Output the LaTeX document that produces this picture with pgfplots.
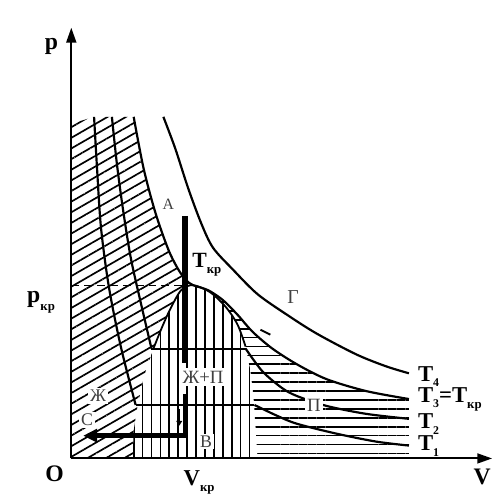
\documentclass[border=0pt]{standalone}
\usepackage{fontspec}
\setmainfont{Liberation Serif}
\usepackage{pgfplots}
\pgfplotsset{compat=1.18}
\usetikzlibrary{patterns.meta,arrows.meta}

% pixel-like coordinates: x to the right, y downwards (as in the scan)
\newcommand\kr{\raisebox{-0.3em}{\fontsize{13}{13}\selectfont кр}}
\newcommand\ix[1]{\raisebox{-0.25em}{\fontsize{12}{12}\selectfont #1}}

\begin{document}
\begin{tikzpicture}
\begin{axis}[
    scale only axis, width=498bp, height=493bp,
    xmin=0, xmax=498, ymin=0, ymax=493,
    y dir=reverse, hide axis, clip=false,
  ]
  % frame of the picture
  \addplot[draw=none] coordinates {(0,0) (498,493)};

  % liquid region (diagonal hatch)
  \addplot[draw=none, pattern={Lines[angle=30,distance=9.3bp,line width=1.7bp]}]
    coordinates {(72,125) (95,118) (135,118) (145,170) (157,215) (170,252)
      (180,272) (188,283) (195,288) (183,293) (172,312) (163,332) (155,352)
      (146,378) (139,409) (135,435) (134,463) (72,463)} --cycle;
  % two-phase dome (vertical hatch)
  \addplot[draw=none, pattern={Lines[angle=90,distance=9bp,line width=1.7bp]}]
    coordinates {(134,463) (135,435) (139,409) (146,378) (155,352) (163,332)
      (172,312) (183,293) (195,288) (212,295) (228,310) (240,328) (248,350)
      (253,375) (256,400) (258,430) (260,463)} --cycle;
  % gas region (horizontal hatch)
  \addplot[draw=none, pattern={Lines[angle=0,distance=9bp,line width=1.7bp]}]
    coordinates {(195,288) (210,293) (225,303) (240,318) (255,335) (275,352)
      (300,368) (330,383) (370,395) (413,403) (413,461) (260,461) (258,430)
      (256,400) (253,375) (248,350) (240,328) (228,310) (212,295)} --cycle;

  % axes
  \addplot[line width=2bp, -{Triangle[length=15bp,width=10bp]}]
    coordinates {(72,463) (72,28)};
  \addplot[line width=2bp, -{Triangle[length=15bp,width=10bp]}]
    coordinates {(72,463) (497,463)};

  % p_kr
  \addplot[line width=1.2bp, dash pattern=on 8bp off 5bp]
    coordinates {(72,288) (188,288)};

  % top of the dome
  \addplot[line width=1.8bp, smooth]
    coordinates {(155,352) (163,332) (172,312) (183,293) (195,288)
      (212,295) (228,310) (240,328) (248,350)};

  % T4
  \addplot[line width=2.2bp, smooth]
    coordinates {(165,118) (177,150) (190,190) (203,225) (215,250) (235,272)
      (260,297) (290,318) (320,337) (360,358) (390,370) (413,377)};
  % T3 = Tkr
  \addplot[line width=2.2bp, smooth]
    coordinates {(135,118) (145,170) (157,215) (170,252) (180,272) (188,283)
      (195,288) (210,293) (225,303) (240,318) (255,335) (275,352) (300,368)
      (330,383) (370,395) (413,403)};
  % T2
  \addplot[line width=2.2bp, smooth]
    coordinates {(113,118) (118,165) (124,210) (132,260) (142,305) (153,352)};
  \addplot[line width=2bp] coordinates {(153,352) (248,352)};
  \addplot[line width=2.2bp, smooth]
    coordinates {(248,352) (265,375) (285,392) (300,400) (330,410) (370,418) (413,423)};
  % T1
  \addplot[line width=2.2bp, smooth]
    coordinates {(95,118) (98,170) (102,230) (110,290) (122,350) (137,409)};
  \addplot[line width=2bp] coordinates {(137,409) (257,409)};
  \addplot[line width=2.2bp, smooth]
    coordinates {(257,409) (280,420) (300,428) (340,438) (380,446) (413,450)};

  % small mark near T3
  \addplot[line width=2bp] coordinates {(263,333) (273,338)};

  % path A - B - C
  \addplot[line width=6bp] coordinates {(187,218) (187,367)};
  \addplot[line width=5bp, line join=miter, -{Triangle[length=14bp,width=13bp]}]
    coordinates {(187,398) (187,440) (84,440)};
  \addplot[line width=1.5bp, -{Triangle[length=5bp,width=6bp]}]
    coordinates {(181,413) (181,430)};

  % labels
  \node[font=\fontsize{24}{24}\selectfont\bfseries] at (52,47) {p};
  \node[font=\fontsize{24}{24}\selectfont\bfseries, anchor=base west] at (24,306) {p\kr};
  \node[font=\fontsize{24}{24}\selectfont\bfseries] at (55,478) {O};
  \node[font=\fontsize{23}{23}\selectfont\bfseries, anchor=base west] at (182,490) {V\kr};
  \node[font=\fontsize{24}{24}\selectfont\bfseries] at (487,482) {V};
  \node[font=\fontsize{22}{22}\selectfont\bfseries, anchor=base west, inner sep=0pt] at (194,270) {T\kr};
  \node[font=\fontsize{16}{16}\selectfont, text=black!75] at (170,206) {А};
  \node[font=\fontsize{20}{20}\selectfont, text=black!75] at (296,300) {Г};
  \node[font=\fontsize{19}{19}\selectfont, text=black!75, fill=white, inner sep=3bp] at (205,381) {Ж+П};
  \node[font=\fontsize{19}{19}\selectfont, text=black!75, fill=white, inner sep=2bp] at (317,409) {П};
  \node[font=\fontsize{18}{18}\selectfont, text=black!75, fill=white, inner sep=2bp] at (99,400) {Ж};
  \node[font=\fontsize{18}{18}\selectfont, text=black!75, fill=white, inner sep=2bp] at (88,424) {С};
  \node[font=\fontsize{18}{18}\selectfont, text=black!75, fill=white, inner sep=2bp] at (208,446) {В};
  \node[font=\fontsize{23}{23}\selectfont\bfseries, anchor=base west, inner sep=0pt] at (422,385) {T\ix{4}};
  \node[font=\fontsize{23}{23}\selectfont\bfseries, anchor=base west, inner sep=0pt] at (422,406) {T\ix{3}=T\kr};
  \node[font=\fontsize{23}{23}\selectfont\bfseries, anchor=base west, inner sep=0pt] at (422,433) {T\ix{2}};
  \node[font=\fontsize{23}{23}\selectfont\bfseries, anchor=base west, inner sep=0pt] at (422,455) {T\ix{1}};
\end{axis}
\end{tikzpicture}
\end{document}
